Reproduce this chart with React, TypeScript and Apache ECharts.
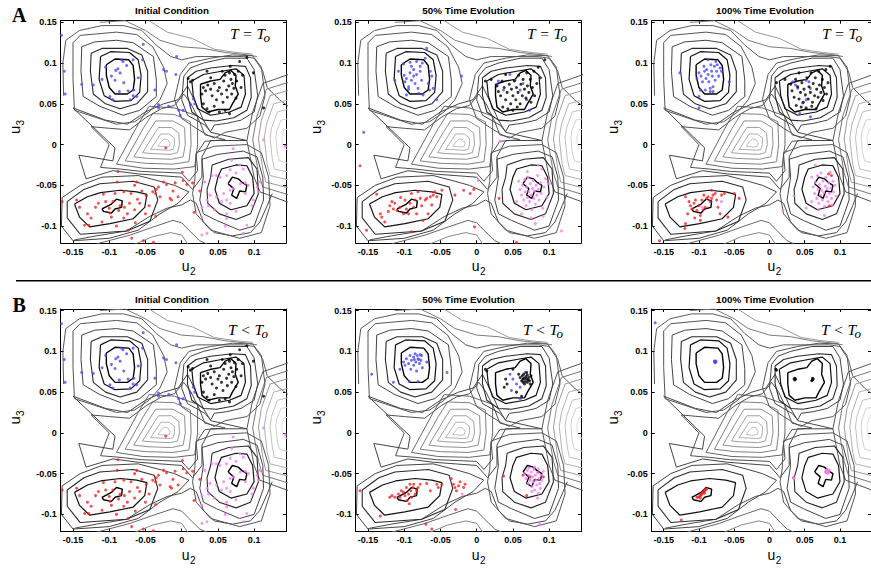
import React, { useEffect, useRef } from 'react';
import * as echarts from 'echarts';

// ---------- axes ----------
const X_MIN = -0.167, X_MAX = 0.144, Y_MIN = -0.121, Y_MAX = 0.152;
const TITLES = ['Initial Condition', '50% Time Evolution', '100% Time Evolution'];
const ROW_NOTES = ['T = T', 'T < T'];
const ROW_LETTERS = ['A', 'B'];

// ---------- contour lines (shared landscape) ----------
const UL_R1 = [[-0.104,0.098],[-0.092,0.105],[-0.073,0.104],[-0.067,0.097],[-0.065,0.080],[-0.067,0.067],[-0.075,0.062],[-0.092,0.062],[-0.100,0.070],[-0.104,0.085]];
const UL_R2 = [[-0.112,0.108],[-0.098,0.114],[-0.072,0.113],[-0.060,0.104],[-0.056,0.085],[-0.058,0.064],[-0.070,0.054],[-0.092,0.053],[-0.107,0.060],[-0.114,0.080]];
const UL_R3 = [[-0.125,0.112],[-0.110,0.118],[-0.075,0.118],[-0.055,0.110],[-0.047,0.090],[-0.047,0.065],[-0.062,0.050],[-0.085,0.044],[-0.105,0.050],[-0.122,0.062],[-0.126,0.090]];
const UL_R4 = [[-0.138,0.120],[-0.120,0.126],[-0.090,0.128],[-0.067,0.125],[-0.039,0.108],[-0.035,0.079],[-0.035,0.059],[-0.058,0.042],[-0.081,0.036],[-0.113,0.047],[-0.136,0.059],[-0.139,0.090]];
const UL_R5 = [[-0.150,0.125],[-0.140,0.134],[-0.090,0.138],[-0.062,0.135],[-0.040,0.120],[-0.025,0.095],[-0.020,0.075],[-0.030,0.055],[-0.045,0.040],[-0.065,0.028],[-0.090,0.025],[-0.148,0.042],[-0.150,0.080]];

const UR_R1 = [[0.026,0.074],[0.040,0.078],[0.053,0.080],[0.060,0.088],[0.068,0.091],[0.075,0.085],[0.074,0.072],[0.078,0.062],[0.070,0.050],[0.066,0.043],[0.050,0.043],[0.036,0.040],[0.028,0.046],[0.026,0.060]];
const UR_R2 = [[0.014,0.078],[0.030,0.086],[0.055,0.090],[0.075,0.093],[0.086,0.085],[0.088,0.062],[0.082,0.046],[0.066,0.040],[0.040,0.036],[0.022,0.044],[0.016,0.060]];
const UR_R3 = [[0.008,0.082],[0.020,0.090],[0.040,0.094],[0.070,0.097],[0.088,0.096],[0.095,0.082],[0.096,0.058],[0.090,0.042],[0.072,0.033],[0.048,0.029],[0.030,0.030],[0.014,0.040],[0.008,0.060]];
const UR_R4 = [[0.003,0.084],[0.012,0.094],[0.030,0.100],[0.060,0.106],[0.090,0.106],[0.100,0.092],[0.105,0.060],[0.100,0.040],[0.082,0.030],[0.062,0.026],[0.045,0.024],[0.040,0.016],[0.032,0.024],[0.008,0.036],[0.000,0.055]];
const UR_R5 = [[-0.002,0.086],[0.010,0.100],[0.040,0.106],[0.070,0.110],[0.098,0.109],[0.110,0.095],[0.115,0.060],[0.108,0.035],[0.090,0.020],[0.060,0.015],[0.045,0.008],[0.035,0.012],[0.020,0.020],[0.000,0.032],[-0.010,0.055]];

const LL_R1 = [[-0.110,-0.079],[-0.097,-0.073],[-0.090,-0.067],[-0.082,-0.069],[-0.083,-0.077],[-0.092,-0.079],[-0.097,-0.084],[-0.108,-0.082]];
const LL_R2 = [[-0.148,-0.073],[-0.130,-0.064],[-0.112,-0.059],[-0.085,-0.056],[-0.062,-0.058],[-0.048,-0.061],[-0.051,-0.077],[-0.067,-0.091],[-0.099,-0.097],[-0.127,-0.101],[-0.141,-0.089]];
const LL_R3 = [[-0.158,-0.070],[-0.135,-0.055],[-0.113,-0.048],[-0.067,-0.045],[-0.038,-0.052],[-0.033,-0.068],[-0.044,-0.094],[-0.076,-0.106],[-0.140,-0.110],[-0.158,-0.090]];
const LL_R4 = [[-0.165,-0.065],[-0.140,-0.050],[-0.110,-0.040],[-0.060,-0.038],[-0.030,-0.045],[-0.010,-0.050],[0.010,-0.058],[-0.005,-0.072],[-0.030,-0.085],[-0.060,-0.105],[-0.100,-0.115],[-0.150,-0.118],[-0.166,-0.100]];

const LR_R1 = [[0.064,-0.048],[0.070,-0.040],[0.078,-0.042],[0.083,-0.046],[0.090,-0.050],[0.088,-0.058],[0.080,-0.057],[0.076,-0.066],[0.069,-0.062],[0.072,-0.054]];
const LR_R2 = [[0.050,-0.040],[0.055,-0.030],[0.075,-0.025],[0.090,-0.026],[0.098,-0.040],[0.100,-0.060],[0.090,-0.075],[0.068,-0.080],[0.052,-0.072],[0.046,-0.055]];
const LR_R3 = [[0.040,-0.040],[0.042,-0.025],[0.065,-0.018],[0.092,-0.016],[0.104,-0.030],[0.106,-0.060],[0.095,-0.085],[0.075,-0.092],[0.052,-0.085],[0.036,-0.072],[0.035,-0.055]];
const LR_R4 = [[0.030,-0.040],[0.028,-0.018],[0.050,-0.012],[0.085,-0.008],[0.104,-0.015],[0.112,-0.040],[0.113,-0.068],[0.100,-0.100],[0.080,-0.105],[0.048,-0.093],[0.030,-0.085],[0.025,-0.068]];
const LR_R5 = [[0.018,-0.045],[0.020,-0.010],[0.045,-0.002],[0.090,0.000],[0.110,-0.010],[0.120,-0.040],[0.122,-0.075],[0.110,-0.108],[0.080,-0.115],[0.040,-0.105],[0.020,-0.085],[0.015,-0.060]];

const C1 = [[-0.090,-0.024],[-0.060,0.025],[-0.045,0.047],[-0.010,0.045],[0.022,0.035],[0.022,0.000],[0.018,-0.027],[-0.010,-0.030],[-0.053,-0.029]];
const C2 = [[-0.078,-0.020],[-0.053,0.020],[-0.040,0.038],[-0.010,0.037],[0.012,0.028],[0.013,0.000],[0.010,-0.021],[-0.012,-0.024],[-0.050,-0.023]];
const C3 = [[-0.066,-0.015],[-0.046,0.015],[-0.036,0.029],[-0.012,0.029],[0.004,0.021],[0.005,0.000],[0.002,-0.015],[-0.014,-0.018],[-0.046,-0.017]];
const C4 = [[-0.054,-0.010],[-0.040,0.010],[-0.032,0.021],[-0.014,0.021],[-0.004,0.014],[-0.003,0.000],[-0.006,-0.010],[-0.016,-0.012],[-0.041,-0.011]];
const C5 = [[-0.043,-0.006],[-0.034,0.006],[-0.029,0.013],[-0.017,0.013],[-0.010,0.008],[-0.010,0.000],[-0.012,-0.006],[-0.018,-0.007],[-0.036,-0.006]];
const C6 = [[-0.033,-0.002],[-0.028,0.004],[-0.024,0.007],[-0.019,0.006],[-0.016,0.002],[-0.017,-0.002],[-0.022,-0.003]];

const S1 = [[-0.050,0.040],[-0.075,0.025],[-0.105,0.030],[-0.150,0.045],[-0.092,-0.004],[-0.095,-0.020],[-0.142,-0.013],[-0.132,-0.042],[-0.095,-0.032],[-0.060,-0.036],[-0.030,-0.038],[0.000,-0.040],[0.015,-0.055],[0.028,-0.040],[0.028,-0.015],[0.040,0.005],[0.090,0.005],[0.040,0.015],[0.030,0.030],[0.020,0.050],[0.008,0.072],[-0.005,0.055],[-0.025,0.050]];
const S2 = [[-0.048,0.034],[-0.072,0.018],[-0.100,0.020],[-0.125,0.022],[-0.100,0.000],[-0.112,-0.028],[-0.085,-0.030],[-0.055,-0.033],[-0.025,-0.034],[0.000,-0.035],[0.010,-0.045],[0.022,-0.032],[0.020,-0.012],[0.032,0.004],[0.060,0.006],[0.032,0.012],[0.025,0.028],[0.013,0.050],[0.003,0.062],[-0.010,0.048],[-0.028,0.044]];

const MR1 = [[0.160,0.090],[0.112,0.075],[0.098,0.040],[0.090,0.005],[0.100,-0.040],[0.108,-0.058],[0.160,-0.075]];
const MR2 = [[0.160,0.080],[0.117,0.068],[0.104,0.035],[0.098,0.006],[0.106,-0.035],[0.112,-0.052],[0.160,-0.065]];
const MR3 = [[0.160,0.070],[0.122,0.060],[0.110,0.030],[0.106,0.007],[0.112,-0.030],[0.116,-0.046],[0.160,-0.056]];
const MR4 = [[0.160,0.058],[0.127,0.050],[0.117,0.025],[0.114,0.008],[0.118,-0.024],[0.122,-0.038],[0.160,-0.046]];
const MR5 = [[0.160,0.046],[0.132,0.040],[0.124,0.020],[0.122,0.008],[0.125,-0.017],[0.128,-0.030],[0.160,-0.036]];
const MR6 = [[0.160,0.034],[0.137,0.030],[0.131,0.016],[0.130,0.008],[0.132,-0.010],[0.135,-0.020],[0.160,-0.026]];
const MR7 = [[0.160,0.022],[0.141,0.018],[0.138,0.008],[0.140,-0.004],[0.160,-0.014]];

const O1 = [[-0.163,0.060],[-0.164,0.100],[-0.160,0.128],[-0.141,0.140],[-0.110,0.146],[-0.080,0.146],[-0.055,0.140],[-0.035,0.122],[-0.015,0.108],[0.000,0.104],[0.020,0.108],[0.050,0.108],[0.085,0.108],[0.100,0.106],[0.112,0.090],[0.118,0.070],[0.135,0.055],[0.150,0.045]];
const O2 = [[-0.113,0.150],[-0.078,0.152],[-0.050,0.140],[-0.030,0.128],[0.000,0.120],[0.030,0.118],[0.060,0.113],[0.092,0.110],[0.104,0.108]];
const O3 = [[-0.045,0.152],[-0.020,0.138],[0.015,0.130],[0.045,0.117],[0.075,0.113],[0.098,0.111]];
const BT1 = [[-0.148,-0.117],[-0.118,-0.112],[-0.076,-0.106],[-0.044,-0.088],[-0.020,-0.078],[0.000,-0.074],[0.012,-0.068],[0.020,-0.072],[0.030,-0.095],[0.045,-0.108],[0.070,-0.112],[0.095,-0.108],[0.108,-0.095],[0.118,-0.075],[0.125,-0.060]];
const BT2 = [[-0.118,-0.122],[-0.071,-0.111],[-0.039,-0.101],[-0.012,-0.093],[0.000,-0.096],[0.010,-0.105],[0.025,-0.118],[0.035,-0.122]];
const BT3 = [[-0.070,-0.124],[-0.040,-0.113],[-0.015,-0.108],[0.000,-0.111],[0.010,-0.124]];

const CONTOUR_LINES = [O3, O2, O1, BT3, BT2, BT1, MR7, MR6, MR5, MR4, MR3, MR2, MR1, C6, C5, C4, C3, C2, C1, S2, S1,
  UL_R5, UL_R4, UL_R3, UL_R2, UL_R1, UR_R5, UR_R4, UR_R3, UR_R2, UR_R1, LL_R4, LL_R3, LL_R2, LL_R1, LR_R5, LR_R4, LR_R3, LR_R2, LR_R1];
const CONTOUR_COLORS = ['#9a9a9a', '#7a7a7a', '#5a5a5a', '#888', '#666', '#4a4a4a', '#e0e0e0', '#d0d0d0', '#c0c0c0', '#b0b0b0', '#999', '#777', '#555', '#c0c0c0', '#b0b0b0', '#a0a0a0', '#909090', '#808080', '#666', '#505050', '#454545',
  '#555', '#444', '#2a2a2a', '#111', '#000', '#555', '#444', '#2a2a2a', '#111', '#000', '#444', '#2a2a2a', '#111', '#000', '#555', '#444', '#2a2a2a', '#111', '#000'];
const CONTOUR_WIDTHS = [1, 1, 1, 1, 1, 1, 1, 1, 1, 1, 1, 1, 1, 1, 1, 1, 1, 1, 1, 1, 1,
  1, 1, 1.1, 1.2, 1.4, 1, 1, 1.1, 1.2, 1.4, 1, 1.1, 1.2, 1.4, 1, 1, 1.1, 1.2, 1.4];
const CONTOUR_CLOSED = [false, false, false, false, false, false, false, false, false, false, false, false, false, true, true, true, true, true, true, true, true,
  true, true, true, true, true, true, true, true, true, true, true, true, true, true, true, true, true, true, true];

// ---------- particle positions ----------
const INIT_BLUE = [[-0.166,0.134],[-0.162,0.090],[-0.161,0.062],[-0.138,0.074],[-0.122,0.073],[-0.099,0.059],[-0.095,0.055],[-0.097,0.084],[-0.092,0.079],[-0.091,0.091],[-0.088,0.093],[-0.085,0.088],[-0.086,0.065],[-0.083,0.104],[-0.081,0.102],[-0.080,0.076],[-0.074,0.066],[-0.071,0.055],[-0.067,0.104],[-0.066,0.067],[-0.062,0.059],[-0.067,0.060],[-0.054,0.104],[-0.053,0.123],[-0.037,0.067],[-0.032,0.049],[-0.032,0.045],[-0.025,0.092],[-0.021,0.090],[-0.018,0.047],[-0.008,0.086],[-0.007,0.108],[-0.004,0.042],[-0.002,0.036],[0.002,0.042],[0.012,0.049],[0.016,0.056],[0.018,0.050],[-0.105,0.095],[-0.060,0.082],[-0.110,0.080],[-0.076,0.097]];
const INIT_BLACK = [[0.009,0.081],[0.015,0.079],[0.012,0.077],[0.030,0.070],[0.033,0.066],[0.036,0.073],[0.040,0.068],[0.042,0.060],[0.045,0.075],[0.048,0.055],[0.050,0.066],[0.052,0.070],[0.055,0.062],[0.057,0.052],[0.058,0.078],[0.060,0.085],[0.062,0.067],[0.063,0.058],[0.065,0.072],[0.066,0.088],[0.067,0.096],[0.068,0.080],[0.069,0.062],[0.070,0.075],[0.072,0.069],[0.073,0.086],[0.075,0.057],[0.076,0.078],[0.078,0.090],[0.080,0.102],[0.082,0.070],[0.084,0.085],[0.090,0.107],[0.099,0.088],[0.113,0.045],[0.030,0.050],[0.035,0.044],[0.038,0.040],[0.045,0.047],[0.052,0.040],[0.060,0.042],[0.066,0.038],[0.040,0.082],[0.028,0.062],[0.056,0.090],[0.035,0.090]];
const INIT_RED = [[-0.165,-0.070],[-0.141,-0.077],[-0.134,-0.099],[-0.128,-0.099],[-0.119,-0.077],[-0.108,-0.061],[-0.099,-0.084],[-0.097,-0.089],[-0.092,-0.060],[-0.089,-0.046],[-0.087,-0.081],[-0.079,-0.077],[-0.074,-0.105],[-0.069,-0.115],[-0.070,-0.060],[-0.065,-0.050],[-0.062,-0.046],[-0.061,-0.067],[-0.050,-0.085],[-0.049,-0.063],[-0.053,-0.118],[-0.039,-0.120],[-0.036,-0.060],[-0.035,-0.055],[-0.032,-0.052],[-0.030,-0.064],[-0.025,-0.046],[-0.021,-0.049],[-0.016,-0.066],[-0.014,-0.068],[-0.012,-0.057],[-0.009,-0.047],[-0.005,-0.064],[0.001,-0.034],[0.002,-0.044],[0.007,-0.049],[0.015,-0.047],[0.017,-0.083],[0.025,-0.057],[-0.022,-0.004],[-0.088,-0.033],[-0.036,-0.088],[-0.064,-0.096],[-0.145,-0.068],[-0.125,-0.090],[-0.115,-0.072],[-0.105,-0.070],[-0.100,-0.078],[-0.095,-0.070],[-0.085,-0.075],[-0.080,-0.090],[-0.075,-0.085],[-0.072,-0.072],[-0.065,-0.080],[-0.058,-0.072],[-0.055,-0.057],[-0.045,-0.075],[-0.040,-0.058],[-0.110,-0.095],[-0.090,-0.100],[-0.080,-0.058],[-0.130,-0.085]];
const INIT_MAGENTA = [[0.071,-0.005],[0.069,-0.019],[0.067,-0.031],[0.062,-0.038],[0.053,-0.040],[0.048,-0.038],[0.039,-0.062],[0.035,-0.068],[0.037,-0.075],[0.028,-0.077],[0.028,-0.089],[0.035,-0.109],[0.028,-0.111],[0.062,-0.068],[0.067,-0.072],[0.062,-0.085],[0.062,-0.091],[0.085,-0.109],[0.090,-0.099],[0.097,-0.075],[0.099,-0.068],[0.092,-0.050],[0.088,-0.047],[0.081,-0.048],[0.088,-0.060],[0.071,-0.054],[0.067,-0.056],[0.058,-0.060],[0.048,-0.064],[0.042,-0.038],[0.032,-0.046],[0.104,-0.052],[0.106,-0.058],[0.108,-0.046],[0.113,0.006],[0.143,-0.002],[0.075,-0.035],[0.080,-0.025],[0.085,-0.030],[0.055,-0.070],[0.045,-0.080],[0.075,-0.082],[0.060,-0.100]];

const A2_BLUE = [[-0.113,0.079],[-0.108,0.090],[-0.101,0.099],[-0.099,0.077],[-0.097,0.081],[-0.094,0.071],[-0.092,0.101],[-0.090,0.096],[-0.087,0.092],[-0.087,0.084],[-0.085,0.075],[-0.083,0.102],[-0.081,0.069],[-0.078,0.090],[-0.076,0.079],[-0.075,0.100],[-0.074,0.061],[-0.071,0.106],[-0.069,0.118],[-0.067,0.075],[-0.065,0.067],[-0.064,0.090],[-0.062,0.084],[-0.060,0.069],[-0.055,0.055],[-0.097,0.061],[-0.094,0.068],[-0.090,0.079],[-0.083,0.086],[-0.078,0.096],[-0.080,0.063],[-0.100,0.085],[-0.092,0.088],[-0.156,0.015],[-0.021,0.084],[0.028,0.074],[0.037,0.067],[0.046,0.086],[0.053,0.079],[0.060,0.067],[0.064,0.075],[0.069,0.055],[0.073,0.042],[0.030,0.078]];
const A2_BLACK = [[0.020,0.080],[0.028,0.072],[0.030,0.065],[0.033,0.060],[0.035,0.078],[0.038,0.070],[0.040,0.055],[0.042,0.064],[0.045,0.074],[0.047,0.050],[0.048,0.068],[0.050,0.060],[0.052,0.078],[0.054,0.055],[0.055,0.070],[0.057,0.064],[0.058,0.085],[0.060,0.050],[0.061,0.074],[0.063,0.060],[0.064,0.080],[0.066,0.068],[0.068,0.057],[0.069,0.088],[0.070,0.072],[0.072,0.064],[0.074,0.080],[0.075,0.052],[0.077,0.070],[0.079,0.090],[0.080,0.060],[0.083,0.075],[0.085,0.095],[0.088,0.082],[0.094,0.104],[0.036,0.046],[0.043,0.044],[0.050,0.042],[0.056,0.046],[0.040,0.086],[0.012,0.078]];
const A2_RED = [[-0.133,-0.085],[-0.131,-0.089],[-0.127,-0.095],[-0.120,-0.075],[-0.117,-0.070],[-0.115,-0.079],[-0.113,-0.072],[-0.110,-0.081],[-0.106,-0.077],[-0.101,-0.085],[-0.099,-0.068],[-0.097,-0.079],[-0.094,-0.085],[-0.090,-0.060],[-0.087,-0.077],[-0.085,-0.068],[-0.083,-0.085],[-0.081,-0.058],[-0.078,-0.066],[-0.074,-0.093],[-0.071,-0.068],[-0.069,-0.066],[-0.067,-0.085],[-0.064,-0.064],[-0.060,-0.062],[-0.055,-0.064],[-0.048,-0.056],[-0.138,-0.061],[-0.152,-0.105],[-0.161,-0.026],[-0.090,-0.107],[-0.030,-0.062],[-0.018,-0.056],[-0.009,-0.060],[-0.003,-0.101],[0.031,-0.066],[-0.105,-0.065],[-0.092,-0.072],[-0.076,-0.075],[-0.062,-0.074],[-0.122,-0.082],[0.055,-0.120],[-0.004,-0.055],[-0.058,-0.058]];
const A2_MAGENTA = [[0.058,-0.045],[0.060,-0.055],[0.062,-0.062],[0.063,-0.050],[0.065,-0.068],[0.066,-0.043],[0.067,-0.058],[0.068,-0.075],[0.069,-0.052],[0.070,-0.065],[0.071,-0.040],[0.072,-0.058],[0.073,-0.070],[0.074,-0.048],[0.075,-0.062],[0.076,-0.080],[0.077,-0.054],[0.078,-0.044],[0.079,-0.066],[0.080,-0.057],[0.081,-0.073],[0.082,-0.050],[0.083,-0.062],[0.084,-0.038],[0.085,-0.055],[0.086,-0.068],[0.088,-0.047],[0.089,-0.060],[0.090,-0.030],[0.091,-0.078],[0.093,-0.052],[0.095,-0.042],[0.097,-0.065],[0.100,-0.048],[0.085,-0.025],[0.075,-0.090],[0.081,-0.097],[0.117,-0.106],[0.032,0.004],[0.002,-0.044],[0.055,-0.070],[0.062,-0.085],[0.070,-0.033],[0.092,-0.088]];

const A3_BLUE = [[-0.103,0.081],[-0.100,0.088],[-0.097,0.084],[-0.095,0.077],[-0.093,0.096],[-0.092,0.090],[-0.090,0.081],[-0.089,0.092],[-0.087,0.104],[-0.087,0.086],[-0.086,0.077],[-0.084,0.069],[-0.083,0.098],[-0.082,0.090],[-0.081,0.084],[-0.080,0.065],[-0.078,0.096],[-0.077,0.079],[-0.076,0.102],[-0.075,0.090],[-0.074,0.098],[-0.072,0.084],[-0.070,0.094],[-0.068,0.090],[-0.098,0.067],[-0.100,0.059],[-0.091,0.067],[-0.084,0.065],[-0.080,0.071],[-0.057,0.077],[-0.127,0.088],[-0.100,0.045],[0.033,0.077],[0.037,0.073],[0.040,0.069],[0.052,0.079],[0.056,0.077],[0.058,0.069],[0.052,0.055],[0.047,0.051],[0.058,0.034],[0.043,0.038]];
const A3_BLACK = [[0.022,0.080],[0.030,0.074],[0.032,0.066],[0.035,0.058],[0.037,0.080],[0.040,0.071],[0.042,0.056],[0.044,0.064],[0.046,0.076],[0.048,0.052],[0.049,0.068],[0.051,0.061],[0.053,0.082],[0.055,0.056],[0.056,0.071],[0.058,0.064],[0.059,0.088],[0.061,0.052],[0.062,0.075],[0.064,0.060],[0.065,0.082],[0.067,0.068],[0.069,0.058],[0.070,0.090],[0.071,0.073],[0.073,0.064],[0.075,0.080],[0.076,0.054],[0.078,0.070],[0.080,0.092],[0.081,0.062],[0.083,0.076],[0.086,0.096],[0.038,0.048],[0.045,0.046],[0.052,0.045],[0.060,0.047],[0.042,0.088],[0.010,0.076],[0.066,0.044]];
const A3_RED = [[-0.119,-0.064],[-0.116,-0.085],[-0.114,-0.070],[-0.112,-0.075],[-0.110,-0.079],[-0.107,-0.072],[-0.105,-0.068],[-0.103,-0.081],[-0.100,-0.075],[-0.098,-0.087],[-0.096,-0.068],[-0.093,-0.062],[-0.091,-0.077],[-0.089,-0.066],[-0.087,-0.064],[-0.084,-0.070],[-0.082,-0.056],[-0.080,-0.062],[-0.077,-0.060],[-0.075,-0.068],[-0.073,-0.077],[-0.070,-0.085],[-0.068,-0.062],[-0.064,-0.060],[-0.059,-0.089],[-0.050,-0.060],[-0.043,-0.066],[-0.098,-0.093],[-0.119,-0.097],[-0.120,-0.103],[-0.156,-0.118],[0.084,-0.036],[0.088,-0.038],[0.085,-0.075],[-0.082,-0.066],[-0.094,-0.080],[-0.106,-0.090]];
const A3_MAGENTA = [[0.060,-0.040],[0.062,-0.052],[0.064,-0.060],[0.065,-0.046],[0.067,-0.066],[0.068,-0.038],[0.069,-0.055],[0.070,-0.072],[0.071,-0.049],[0.072,-0.062],[0.073,-0.035],[0.074,-0.056],[0.075,-0.068],[0.076,-0.045],[0.077,-0.059],[0.078,-0.076],[0.079,-0.051],[0.080,-0.040],[0.081,-0.064],[0.082,-0.054],[0.083,-0.070],[0.084,-0.047],[0.085,-0.060],[0.086,-0.034],[0.087,-0.053],[0.088,-0.066],[0.090,-0.045],[0.091,-0.058],[0.093,-0.050],[0.095,-0.063],[0.065,-0.025],[0.078,-0.087],[0.019,-0.081],[0.035,-0.063],[0.052,-0.078],[-0.068,-0.070],[-0.095,-0.077],[0.060,-0.070],[0.070,-0.080],[0.089,-0.074]];

const B2_BLUE = [[-0.101,0.087],[-0.099,0.083],[-0.097,0.091],[-0.094,0.085],[-0.092,0.095],[-0.091,0.078],[-0.090,0.089],[-0.087,0.093],[-0.087,0.083],[-0.085,0.097],[-0.084,0.087],[-0.083,0.076],[-0.082,0.095],[-0.081,0.091],[-0.079,0.085],[-0.078,0.096],[-0.077,0.089],[-0.076,0.095],[-0.075,0.080],[-0.106,0.078],[-0.093,0.063],[-0.081,0.063],[-0.069,0.087],[-0.145,0.072],[-0.115,0.062],[-0.041,0.074],[0.046,0.072],[0.050,0.066],[0.055,0.060],[0.060,0.056],[0.064,0.066],[0.067,0.074],[0.048,0.052],[0.060,0.042],[-0.080,0.090],[-0.086,0.090]];
const B2_BLACK = [[0.060,0.068],[0.062,0.064],[0.063,0.070],[0.064,0.066],[0.065,0.072],[0.066,0.067],[0.067,0.063],[0.068,0.069],[0.069,0.066],[0.070,0.071],[0.071,0.065],[0.072,0.068],[0.073,0.064],[0.066,0.060],[0.069,0.074],[0.064,0.062],[0.070,0.062],[0.058,0.072],[0.075,0.070],[0.040,0.066],[0.042,0.060],[0.038,0.056],[0.055,0.050],[0.050,0.078],[0.012,0.078],[0.014,0.076],[0.062,0.045],[0.074,0.060]];
const B2_RED = [[-0.120,-0.079],[-0.117,-0.077],[-0.113,-0.079],[-0.108,-0.075],[-0.106,-0.079],[-0.104,-0.071],[-0.101,-0.073],[-0.099,-0.077],[-0.097,-0.067],[-0.096,-0.083],[-0.094,-0.075],[-0.093,-0.087],[-0.092,-0.063],[-0.091,-0.071],[-0.090,-0.079],[-0.088,-0.067],[-0.087,-0.063],[-0.085,-0.075],[-0.083,-0.071],[-0.081,-0.067],[-0.078,-0.063],[-0.069,-0.062],[-0.064,-0.071],[-0.055,-0.063],[-0.053,-0.067],[-0.048,-0.063],[-0.161,-0.071],[-0.133,-0.102],[-0.070,-0.112],[-0.062,-0.118],[-0.029,-0.094],[-0.035,-0.056],[-0.032,-0.063],[-0.030,-0.067],[-0.028,-0.071],[-0.025,-0.065],[-0.023,-0.060],[-0.018,-0.067],[-0.016,-0.063],[0.064,-0.052],[0.074,-0.054],[0.085,-0.048],[0.092,-0.054],[0.037,-0.053],[0.069,-0.077]];
const B2_MAGENTA = [[0.066,-0.050],[0.068,-0.056],[0.070,-0.046],[0.071,-0.062],[0.072,-0.052],[0.074,-0.058],[0.075,-0.048],[0.076,-0.066],[0.077,-0.054],[0.078,-0.060],[0.079,-0.045],[0.080,-0.070],[0.081,-0.052],[0.082,-0.058],[0.083,-0.064],[0.084,-0.049],[0.085,-0.074],[0.086,-0.056],[0.087,-0.062],[0.088,-0.068],[0.089,-0.052],[0.090,-0.058],[0.084,-0.080],[0.076,-0.072],[0.092,-0.047],[0.087,-0.112],[-0.020,-0.075],[0.072,-0.043],[0.080,-0.042],[0.085,-0.044]];

const B3_BLUE = [[-0.078,0.087],[-0.077,0.088],[-0.076,0.087],[-0.077,0.086],[-0.078,0.088],[-0.076,0.088],[-0.162,0.135]];
const B3_BLACK = [[0.035,0.066],[0.036,0.067],[0.036,0.065],[0.037,0.066],[0.061,0.065],[0.061,0.067],[0.062,0.066],[0.060,0.064],[0.009,0.078],[0.010,0.077]];
const B3_RED = [[-0.103,-0.079],[-0.101,-0.079],[-0.099,-0.078],[-0.098,-0.077],[-0.097,-0.076],[-0.096,-0.075],[-0.095,-0.074],[-0.094,-0.073],[-0.093,-0.072],[-0.092,-0.071],[-0.091,-0.070],[-0.090,-0.069],[-0.089,-0.069],[-0.098,-0.080],[-0.092,-0.074],[-0.125,-0.107],[0.034,-0.055],[0.080,-0.048]];
const B3_MAGENTA = [[0.080,-0.046],[0.082,-0.047],[0.084,-0.048],[0.081,-0.049],[0.083,-0.050],[0.085,-0.046],[0.082,-0.045],[0.034,-0.055],[0.035,-0.056]];

const PANEL_POINTS = [
  [INIT_BLUE, INIT_BLACK, INIT_RED, INIT_MAGENTA],
  [A2_BLUE, A2_BLACK, A2_RED, A2_MAGENTA],
  [A3_BLUE, A3_BLACK, A3_RED, A3_MAGENTA],
  [INIT_BLUE, INIT_BLACK, INIT_RED, INIT_MAGENTA],
  [B2_BLUE, B2_BLACK, B2_RED, B2_MAGENTA],
  [B3_BLUE, B3_BLACK, B3_RED, B3_MAGENTA],
];
const POINT_COLORS = ['#4b4bf2', '#000000', '#f22626', '#f27ef2'];

// ---------- layout ----------
const COL_LEFT = [60.7, 355.7, 651.7];
const ROW_TOP = [20.7, 309];
const PW = 225.3, PH = 222.5;
const TITLE_X = [172, 468.5, 765];
const TITLE_Y = [10, 299.5];
const XLAB_X = [181.7, 471.7, 767.5];
const XLAB_Y = [266, 555];
const YLAB_X = [19.3, 320.7, 617];
const YLAB_Y = [134, 424.5];
const NOTE_X = [[230, 527, 822], [228, 523, 821]];
const NOTE_Y = [33.3, 329];

function fmt(v: number) {
  const k = v * 20;
  if (Math.abs(k - Math.round(k)) > 1e-6) return '';
  const r = Math.round(v * 100) / 100;
  return r === 0 ? '0' : String(r);
}

export default function App() {
  const ref = useRef<HTMLDivElement>(null);
  useEffect(() => {
    const chart = echarts.init(ref.current!, null, { renderer: 'svg' });
    const grid: any[] = [];
    const xAxis: any[] = [];
    const yAxis: any[] = [];
    const series: any[] = [];
    const graphic: any[] = [];
    const labelStyle = { fontSize: 9, fontWeight: 'bold', color: '#000', fontFamily: 'Liberation Sans, Arial, sans-serif' };

    for (let p = 0; p < 6; p++) {
      const row = Math.floor(p / 3), col = p % 3;
      grid.push({ left: COL_LEFT[col], top: ROW_TOP[row], width: PW, height: PH, containLabel: false });
    }
    for (let p = 0; p < 6; p++) {
      xAxis.push({
        gridIndex: p, type: 'value', min: X_MIN, max: X_MAX, position: 'bottom',
        axisLine: { show: true, onZero: false, lineStyle: { color: '#000', width: 1 } },
        axisTick: { show: true, inside: true, length: 3, lineStyle: { color: '#000' } },
        axisLabel: { ...labelStyle, margin: 4, formatter: fmt, showMinLabel: false, showMaxLabel: false, hideOverlap: false },
        splitLine: { show: false },
      });
      yAxis.push({
        gridIndex: p, type: 'value', min: Y_MIN, max: Y_MAX, position: 'left',
        axisLine: { show: true, onZero: false, lineStyle: { color: '#000', width: 1 } },
        axisTick: { show: true, inside: true, length: 3, lineStyle: { color: '#000' } },
        axisLabel: { ...labelStyle, margin: 4, formatter: fmt, showMinLabel: false, showMaxLabel: false, hideOverlap: false },
        splitLine: { show: false },
      });
    }
    for (let p = 0; p < 6; p++) {
      xAxis.push({
        gridIndex: p, type: 'value', min: X_MIN, max: X_MAX, position: 'top',
        axisLine: { show: true, onZero: false, lineStyle: { color: '#000', width: 1 } },
        axisTick: { show: true, inside: true, length: 3, lineStyle: { color: '#000' } },
        axisLabel: { show: false }, splitLine: { show: false },
      });
      yAxis.push({
        gridIndex: p, type: 'value', min: Y_MIN, max: Y_MAX, position: 'right',
        axisLine: { show: true, onZero: false, lineStyle: { color: '#000', width: 1 } },
        axisTick: { show: true, inside: true, length: 3, lineStyle: { color: '#000' } },
        axisLabel: { show: false }, splitLine: { show: false },
      });
    }

    for (let p = 0; p < 6; p++) {
      CONTOUR_LINES.forEach((pts, i) => {
        const data = CONTOUR_CLOSED[i] ? [...pts, pts[0]] : pts;
        series.push({
          type: 'line', xAxisIndex: p, yAxisIndex: p, data, symbol: 'none', showSymbol: false,
          lineStyle: { color: CONTOUR_COLORS[i], width: CONTOUR_WIDTHS[i] }, silent: true, z: 2, clip: true,
        });
      });
      PANEL_POINTS[p].forEach((pts, k) => {
        series.push({
          type: 'scatter', xAxisIndex: p, yAxisIndex: p, data: pts, symbol: 'circle', symbolSize: 3,
          itemStyle: { color: POINT_COLORS[k] }, silent: true, z: 3, clip: true,
        });
      });
    }

    for (let row = 0; row < 2; row++) {
      graphic.push({
        type: 'text', x: 19.2, y: TITLE_Y[row] + 5 + (row === 0 ? 0 : 0.5),
        style: { text: ROW_LETTERS[row], fontSize: 20, fontWeight: 'bold', fontFamily: 'Liberation Serif, Times New Roman, serif', fill: '#000', align: 'center', verticalAlign: 'middle' },
      });
      for (let col = 0; col < 3; col++) {
        graphic.push({
          type: 'text', x: TITLE_X[col], y: TITLE_Y[row],
          style: { text: TITLES[col], fontSize: 9.8, fontWeight: 'bold', fontFamily: 'Liberation Sans, Arial, sans-serif', fill: '#000', align: 'center', verticalAlign: 'middle' },
        });
        graphic.push({
          type: 'text', x: XLAB_X[col], y: XLAB_Y[row],
          style: { text: 'u', fontSize: 14, fontFamily: 'Liberation Sans, Arial, sans-serif', fill: '#000', align: 'left', verticalAlign: 'middle' },
        });
        graphic.push({
          type: 'text', x: XLAB_X[col] + 8.2, y: XLAB_Y[row] + 5.5,
          style: { text: '2', fontSize: 10, fontFamily: 'Liberation Sans, Arial, sans-serif', fill: '#000', align: 'left', verticalAlign: 'middle' },
        });
        graphic.push({
          type: 'group', x: YLAB_X[col], y: YLAB_Y[row], rotation: Math.PI / 2,
          children: [
            { type: 'text', x: 0, y: -5, style: { text: 'u', fontSize: 15, fontFamily: 'Liberation Sans, Arial, sans-serif', fill: '#000', align: 'left', verticalAlign: 'middle' } },
            { type: 'text', x: 8.6, y: 1, style: { text: '3', fontSize: 10, fontFamily: 'Liberation Sans, Arial, sans-serif', fill: '#000', align: 'left', verticalAlign: 'middle' } },
          ],
        });
        graphic.push({
          type: 'text', x: NOTE_X[row][col], y: NOTE_Y[row], z: 10,
          style: { text: ROW_NOTES[row], fontSize: 15.5, fontStyle: 'italic', fontFamily: 'Liberation Serif, Times New Roman, serif', fill: '#000', align: 'left', verticalAlign: 'middle' },
        });
        graphic.push({
          type: 'text', x: NOTE_X[row][col] + 33.5, y: NOTE_Y[row] + 4, z: 10,
          style: { text: 'o', fontSize: 13, fontStyle: 'italic', fontFamily: 'Liberation Serif, Times New Roman, serif', fill: '#000', align: 'left', verticalAlign: 'middle' },
        });
      }
    }
    graphic.push({ type: 'line', shape: { x1: 16, y1: 280.7, x2: 871, y2: 280.7 }, style: { stroke: '#000', lineWidth: 1.6 } });

    chart.setOption({ animation: false, backgroundColor: '#fff', grid, xAxis, yAxis, series, graphic });
    return () => chart.dispose();
  }, []);
  return <div ref={ref} style={{ position: 'absolute', left: 0, top: 0, width: 871, height: 569 }} />;
}
